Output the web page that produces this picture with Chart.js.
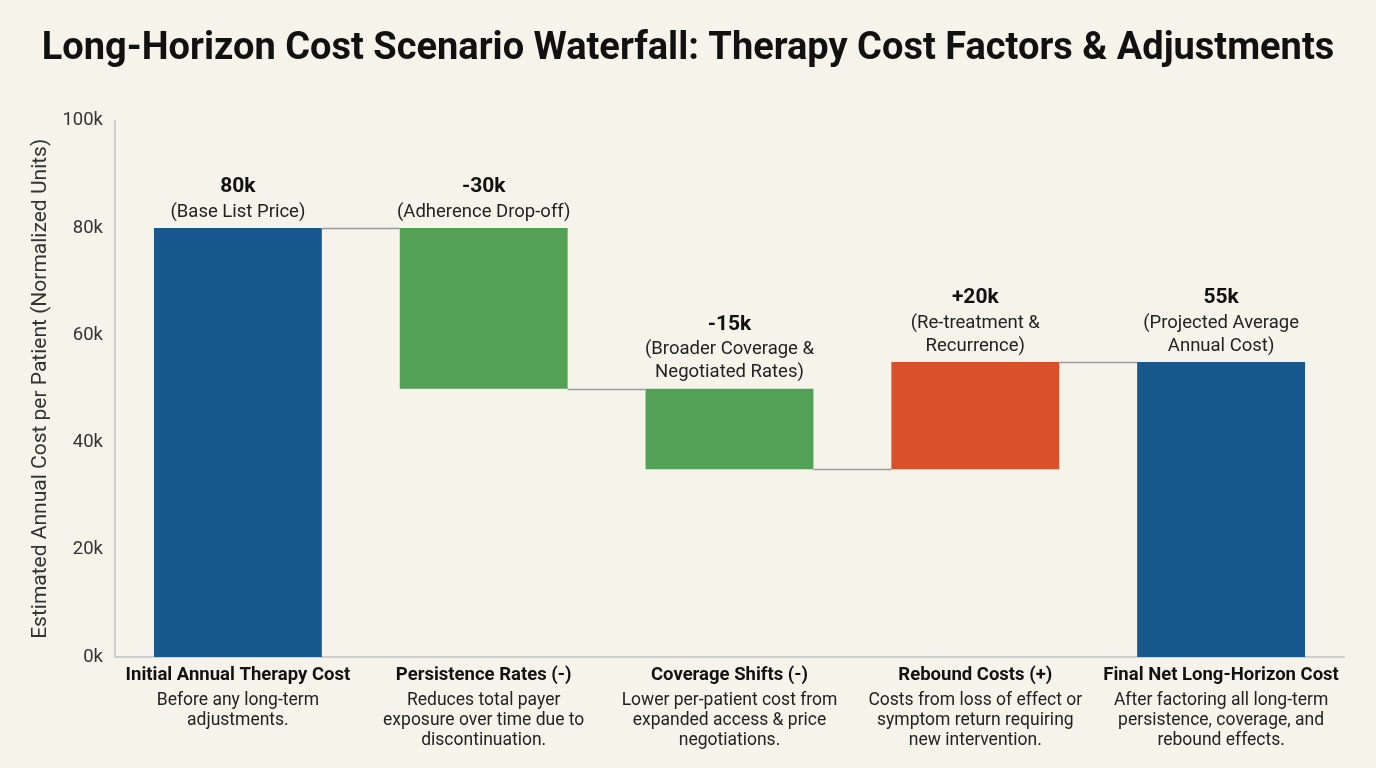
<!DOCTYPE html>
<html>
<head>
<meta charset="utf-8">
<script src="https://cdn.jsdelivr.net/npm/chart.js@4.4.1/dist/chart.umd.min.js"></script>
<style>
  html, body { margin: 0; padding: 0; background: #f6f3eb; }
  #wrap { width: 1376px; height: 768px; }
</style>
</head>
<body>
<div id="wrap"><canvas id="mycanvas"></canvas></div>
<script>
// chart data
var categories = ['Initial Annual Therapy Cost', 'Persistence Rates (-)', 'Coverage Shifts (-)', 'Rebound Costs (+)', 'Final Net Long-Horizon Cost'];
var descriptions = [
    ['Before any long-term', 'adjustments.'],
    ['Reduces total payer', 'exposure over time due to', 'discontinuation.'],
    ['Lower per-patient cost from', 'expanded access & price', 'negotiations.'],
    ['Costs from loss of effect or', 'symptom return requiring', 'new intervention.'],
    ['After factoring all long-term', 'persistence, coverage, and', 'rebound effects.']
];
var steps = [80000, -30000, -15000, 20000, 55000];
var stepTypes = ['total', 'delta', 'delta', 'delta', 'total'];
var valueLabels = ['80k', '-30k', '-15k', '+20k', '55k'];
var notes = [
    ['(Base List Price)'],
    ['(Adherence Drop-off)'],
    ['(Broader Coverage &', 'Negotiated Rates)'],
    ['(Re-treatment &', 'Recurrence)'],
    ['(Projected Average', 'Annual Cost)']
];
var yTicks = [0, 20000, 40000, 60000, 80000, 100000];

var BLUE = '#19588c', GREEN = '#53a154', ORANGE = '#d9512b';

// build floating bars from the steps
var ranges = [];
var colors = [];
var running = 0;
for (var i = 0; i < steps.length; i++) {
    if (stepTypes[i] === 'total') {
        running = steps[i];
        ranges.push([0, running]);
        colors.push(BLUE);
    } else {
        var start = running;
        running = running + steps[i];
        ranges.push([Math.min(start, running), Math.max(start, running)]);
        colors.push(steps[i] < 0 ? GREEN : ORANGE);
    }
}

var FONT = 'Roboto, "Liberation Sans", sans-serif';

var waterfallExtras = {
    id: 'waterfallExtras',
    afterDatasetsDraw: function(chart) {
        var ctx = chart.ctx;
        var x = chart.scales.x, y = chart.scales.y;
        var meta = chart.getDatasetMeta(0);
        ctx.save();

        // connectors
        ctx.strokeStyle = '#9a9a9a';
        ctx.lineWidth = 1.5;
        var level = 0;
        for (var i = 0; i < steps.length - 1; i++) {
            level = stepTypes[i] === 'total' ? steps[i] : level + steps[i];
            var a = meta.data[i], b = meta.data[i + 1];
            var py = Math.round(y.getPixelForValue(level)) + 0.5;
            ctx.beginPath();
            ctx.moveTo(a.x + a.width / 2, py);
            ctx.lineTo(b.x - b.width / 2, py);
            ctx.stroke();
        }

        // labels above bars
        ctx.textAlign = 'center';
        ctx.textBaseline = 'middle';
        for (var j = 0; j < steps.length; j++) {
            var bar = meta.data[j];
            var top = y.getPixelForValue(ranges[j][1]);
            var lines = notes[j];
            var yy = top - 16 - (lines.length - 1) * 23;
            ctx.fillStyle = '#222';
            ctx.font = '18.5px ' + FONT;
            for (var k = 0; k < lines.length; k++) {
                ctx.fillText(lines[k], bar.x, yy + k * 23);
            }
            ctx.fillStyle = '#111';
            ctx.font = 'bold 21px ' + FONT;
            ctx.fillText(valueLabels[j], bar.x, yy - 25);
        }

        // category labels with descriptions
        for (var m = 0; m < categories.length; m++) {
            var cx = x.getPixelForValue(m);
            ctx.fillStyle = '#111';
            ctx.font = 'bold 18.5px ' + FONT;
            ctx.fillText(categories[m], cx, 675);
            ctx.fillStyle = '#222';
            ctx.font = '17.5px ' + FONT;
            for (var n = 0; n < descriptions[m].length; n++) {
                ctx.fillText(descriptions[m][n], cx, 701 + n * 20);
            }
        }
        ctx.restore();
    }
};

var ctx = document.getElementById('mycanvas');
var chart = new Chart(ctx, {
    type: 'bar',
    data: {
        labels: categories,
        datasets: [{
            data: ranges,
            backgroundColor: colors,
            borderWidth: 0,
            barPercentage: 0.683,
            categoryPercentage: 1
        }]
    },
    options: {
        responsive: true,
        maintainAspectRatio: false,
        animation: false,
        layout: { padding: { left: 32, right: 32, top: 0, bottom: 0 } },
        plugins: {
            legend: { display: false },
            tooltip: { enabled: false },
            title: {
                display: true,
                text: 'Long-Horizon Cost Scenario Waterfall: Therapy Cost Factors & Adjustments',
                color: '#111',
                font: { family: FONT, size: 38, weight: 'bold' },
                padding: { top: 27, bottom: 48 }
            }
        },
        scales: {
            x: {
                grid: { display: false, drawTicks: false },
                border: { color: '#cfcfcf', width: 2 },
                ticks: { display: false },
                afterFit: function(scale) { scale.height = 111; }
            },
            y: {
                min: 0,
                max: 100000,
                afterBuildTicks: function(scale) {
                    scale.ticks = yTicks.map(function(v) { return { value: v }; });
                },
                grid: { display: false, drawTicks: false },
                border: { color: '#cfcfcf', width: 2 },
                ticks: {
                    color: '#333',
                    padding: 12,
                    font: { family: FONT, size: 18.5 },
                    callback: function(v) { return (v / 1000) + 'k'; }
                },
                title: {
                    display: true,
                    text: 'Estimated Annual Cost per Patient (Normalized Units)',
                    color: '#333',
                    font: { family: FONT, size: 21 },
                    padding: { top: -4, bottom: 8 }
                },
                afterFit: function(scale) { scale.width = 83; }
            }
        }
    },
    plugins: [waterfallExtras]
});
</script>
</body>
</html>
